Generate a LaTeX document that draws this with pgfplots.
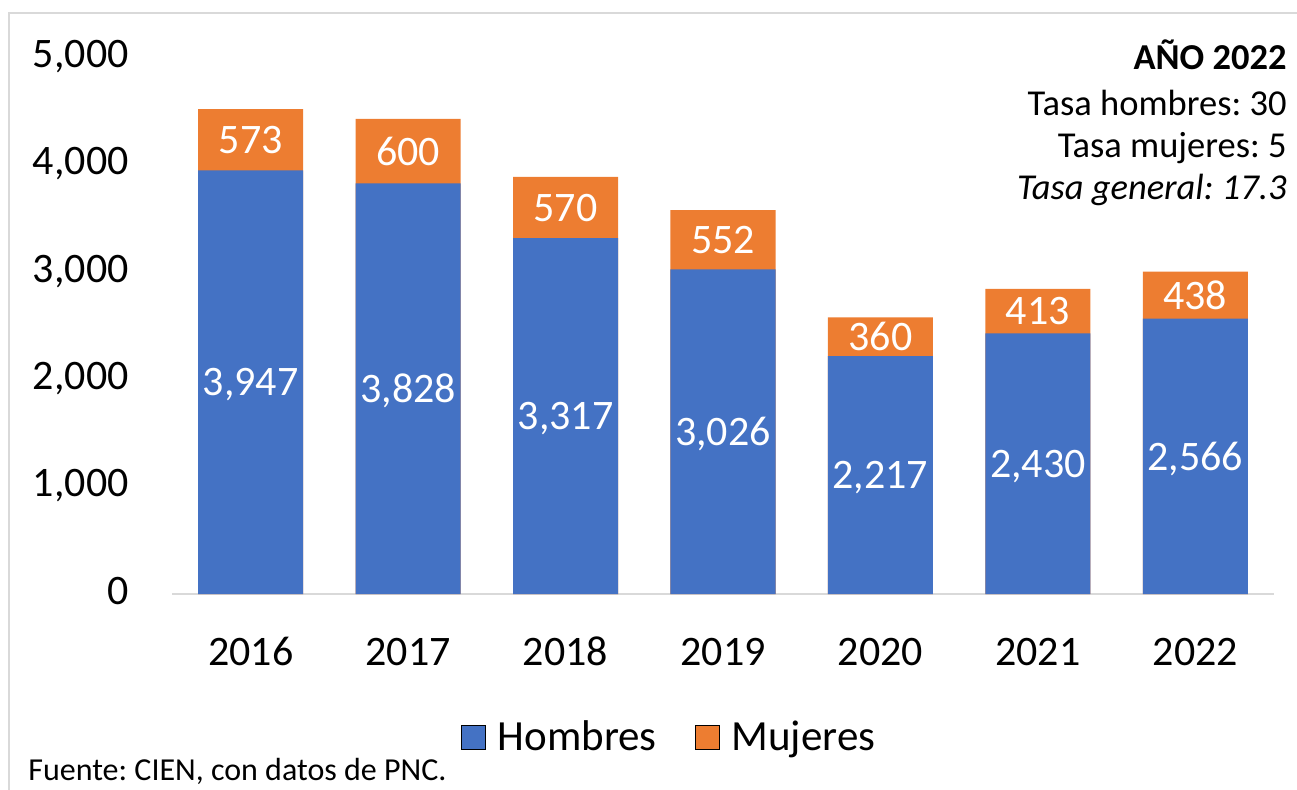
\documentclass[border=0pt]{standalone}
\usepackage{pgfplots}
\pgfplotsset{compat=1.18}
\usepackage{pgfplotstable}
\usepackage{fontspec}
\setmainfont{Carlito}
\frenchspacing
\definecolor{cblue}{HTML}{4472C4}
\definecolor{corange}{HTML}{ED7D31}
\definecolor{cgrid}{HTML}{D9D9D9}
\pgfplotstableread{
x h m
0 3947 573
1 3828 600
2 3317 570
3 3026 552
4 2217 360
5 2430 413
6 2566 438
}\datatable
\begin{document}
\begin{tikzpicture}
\path[use as bounding box] (0,0) rectangle (648.5bp,395bp);
\draw[cgrid, line width=1.2bp] (4.6bp,-1bp) -- (4.6bp,388.5bp) -- (650bp,388.5bp);
\begin{axis}[
  at={(86bp,98bp)}, anchor=south west,
  scale only axis, width=551bp, height=268.25bp,
  xmin=-0.5, xmax=6.5, ymin=0, ymax=5000,
  axis lines*=left,
  x axis line style={draw=cgrid, line width=1bp},
  y axis line style={draw=none},
  tick align=inside, major tick length=0pt,
  xtick={0,...,6}, xticklabels={2016,2017,2018,2019,2020,2021,2022},
  ytick={0,1000,...,5000},
  scaled y ticks=false,
  /pgf/number format/assume math mode=true,
  /pgf/number format/1000 sep={,},
  tick label style={font=\fontsize{21bp}{25bp}\selectfont, inner sep=0pt},
  yticklabel style={anchor=east, text depth=0pt, xshift=-21.5bp, yshift=1.75bp},
  xticklabel style={anchor=base, yshift=-35.5bp},
  clip=false,
  legend image code/.code={\fill[#1] (0bp,-6bp) rectangle (12bp,6bp);},
  legend columns=2,
  legend cell align=left,
  legend style={draw=none, fill=none, at={(0.452,-0.2665)}, anchor=center,
    font=\fontsize{21.5bp}{25bp}\selectfont,
    /tikz/every odd column/.append style={column sep=4bp},
    /tikz/every even column/.append style={column sep=17bp}},
]
\addplot[ybar, bar width=52.5bp, bar shift=0pt, fill=corange, draw=none, forget plot]
  table[x=x, y expr=\thisrow{h}+\thisrow{m}] {\datatable};
\addplot[ybar, bar width=52.5bp, bar shift=0pt, fill=cblue, draw=none, forget plot]
  table[x=x, y=h] {\datatable};
\addplot[draw=none, mark=none, forget plot, point meta=explicit,
  nodes near coords={\pgfmathprintnumber[assume math mode=true]{\pgfplotspointmeta}},
  nodes near coords style={anchor=center, text=white, inner sep=0pt, text depth=0pt, font=\fontsize{21bp}{25bp}\selectfont}]
  table[x=x, y expr=\thisrow{h}/2, meta=h] {\datatable};
\addplot[draw=none, mark=none, forget plot, point meta=explicit,
  nodes near coords={\pgfmathprintnumber[assume math mode=true]{\pgfplotspointmeta}},
  nodes near coords style={anchor=center, text=white, inner sep=0pt, text depth=0pt, font=\fontsize{21bp}{25bp}\selectfont}]
  table[x=x, y expr=\thisrow{h}+\thisrow{m}/2, meta=m] {\datatable};
\addlegendimage{fill=cblue}
\addlegendentry{Hombres}
\addlegendimage{fill=corange}
\addlegendentry{Mujeres}
\end{axis}
\node[anchor=base east, inner sep=0pt, font=\bfseries\fontsize{18.25bp}{22bp}\selectfont] at (643.5bp,360bp) {AÑO 2022};
\node[anchor=base east, inner sep=0pt, font=\fontsize{18.25bp}{22bp}\selectfont] at (643.5bp,337bp) {Tasa hombres: 30};
\node[anchor=base east, inner sep=0pt, font=\fontsize{18.25bp}{22bp}\selectfont] at (643.5bp,316bp) {Tasa mujeres: 5};
\node[anchor=base east, inner sep=0pt, font=\itshape\fontsize{18.25bp}{22bp}\selectfont] at (643.5bp,295bp) {Tasa general: 17.3};
\node[anchor=base west, inner sep=0pt, font=\fontsize{16bp}{19bp}\selectfont] at (14bp,5bp) {Fuente: CIEN, con datos de PNC.};
\end{tikzpicture}
\end{document}
